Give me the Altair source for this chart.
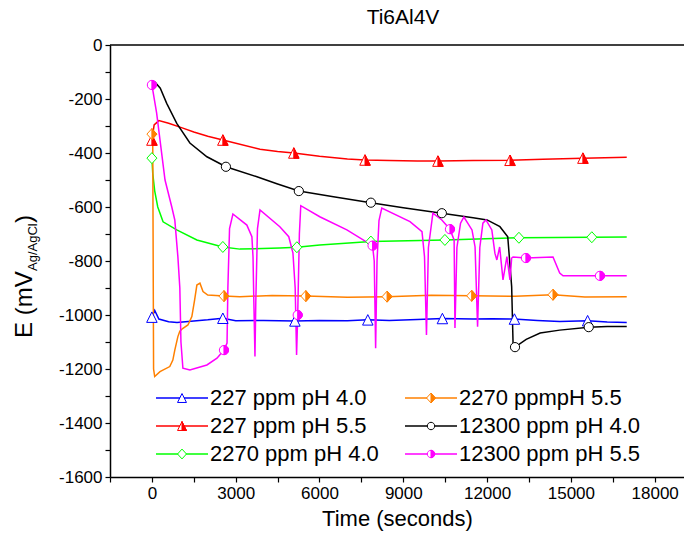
import altair as alt
import pandas as pd

TITLE = "Ti6Al4V"
X_TITLE = "Time (seconds)"
Y_TITLE_MAIN = "E (mV"
Y_TITLE_SUB = "Ag/AgCl"
Y_TITLE_END = ")"
FONT = "Liberation Sans"

names = ["227 ppm pH 4.0", "227 ppm pH 5.5", "2270 ppm pH 4.0",
         "2270 ppmpH 5.5", "12300 ppm pH 4.0", "12300 ppm pH 5.5"]
colors = ["#0000FF", "#FF0000", "#00FF00", "#FF8000", "#000000", "#FF00FF"]
shape_kind = ["tri", "tri", "dia", "dia", "circ", "circ"]
half_filled = [False, True, False, True, False, True]
legend_col = [0, 0, 0, 1, 1, 1]
legend_row = [0, 1, 2, 0, 1, 2]

x_ticks = list(range(-1500, 18001, 1500))
y_ticks = list(range(-1600, 1, 100))

# ---- series: 227 ppm pH 4.0 (blue)
t_blue = [0, 100, 250, 600, 900, 1500, 2000, 2540, 3000, 4000, 5120, 6000, 7000,
          7730, 8500, 9500, 10420, 11500, 12200, 12960, 13800, 14600, 15600, 16300, 17000]
e_blue = [-1008, -983, -1015, -1025, -1028, -1022, -1018, -1012, -1021, -1020, -1022, -1020, -1021,
          -1018, -1020, -1017, -1013, -1015, -1014, -1015, -1020, -1024, -1021, -1026, -1028]
mt_blue = [0, 2540, 5120, 7730, 10400, 12980, 15600]
me_blue = [-1008, -1012, -1022, -1018, -1013, -1015, -1021]

# ---- 227 ppm pH 5.5 (red)
t_red = [0, 80, 250, 600, 1110, 1500, 2000, 2540, 3870, 4500, 5080, 6000, 7000,
         7630, 8500, 9500, 10240, 11500, 12820, 14000, 15430, 17000]
e_red = [-352, -296, -280, -290, -308, -322, -338, -352, -386, -394, -400, -412, -422,
         -426, -428, -430, -430, -428, -427, -423, -419, -416]
mt_red = [0, 2540, 5080, 7630, 10240, 12820, 15430]
me_red = [-352, -352, -400, -426, -430, -427, -419]

# ---- 2270 ppm pH 4.0 (green)
t_green = [0, 30, 100, 210, 400, 890, 1610, 2540, 3150, 4580, 5190, 6010, 7840,
           10490, 13140, 15750, 17000]
e_green = [-419, -475, -540, -600, -655, -685, -722, -748, -756, -752, -749, -741, -728,
           -722, -714, -712, -711]
mt_green = [0, 2540, 5190, 7840, 10490, 13140, 15750]
me_green = [-419, -748, -749, -728, -722, -714, -712]

# ---- 2270 ppmpH 5.5 (orange)
t_orange = [0, 30, 60, 100, 290, 640, 750, 820, 930, 1000, 1100, 1290, 1430, 1530,
            1610, 1720, 1830, 2000, 2580, 3150, 4300, 5510, 7000, 8420, 10000, 11450,
            13000, 14360, 15500, 17000]
e_orange = [-330, -360, -1200, -1228, -1210, -1191, -1167, -1130, -1080, -1060, -1050,
            -1037, -1006, -944, -889, -882, -913, -926, -930, -932, -928, -930, -934,
            -932, -927, -929, -931, -925, -933, -932]
mt_orange = [0, 2580, 5510, 8420, 11450, 14360]
me_orange = [-330, -930, -930, -932, -929, -925]

# ---- 12300 ppm pH 4.0 (black)
t_black = [100, 300, 530, 890, 1360, 1970, 2650, 3760, 4500, 5260, 6500, 7840, 9000,
           10380, 11500, 12000, 12460, 12740, 12880, 12930, 13000, 13400, 13900, 14600,
           15640, 16300, 17000]
e_black = [-136, -160, -216, -290, -363, -414, -451, -488, -515, -541, -562, -584, -603,
           -623, -640, -648, -673, -710, -895, -1104, -1119, -1090, -1067, -1056,
           -1045, -1043, -1043]
mt_black = [2650, 5260, 7840, 10380, 13000, 15640]
me_black = [-451, -541, -584, -623, -1119, -1045]

# ---- 12300 ppm pH 5.5 (magenta)
t_mag = [0, 170, 470, 710, 820, 930, 1000, 1040, 1110, 1360, 1970, 2330, 2580, 2690,
         2720, 2780, 2900, 3400, 3580, 3620, 3650, 3690, 3720, 3780, 3870, 4580, 4900,
         5050, 5130, 5180, 5220, 5280, 5330, 6010, 6980, 7900, 7960, 8010, 8060, 8130,
         8230, 9240, 9670, 9760, 9830, 9900, 10060, 10380, 10670, 10820, 10850, 10920,
         11050, 11170, 11460, 11570, 11660, 11740, 11850, 11960, 12170, 12280, 12350,
         12450, 12570, 12710, 12820, 12880, 12930, 13390, 14360, 14600, 14720, 16040, 17000]
e_mag = [-148, -252, -500, -599, -648, -784, -900, -1100, -1197, -1204, -1185, -1160,
         -1130, -1104, -900, -680, -626, -667, -710, -784, -950, -1154, -950, -680, -611,
         -673, -710, -771, -900, -1148, -1000, -700, -595, -636, -685, -743, -800, -1123,
         -800, -650, -604, -654, -691, -784, -1074, -750, -623, -648, -682, -722, -1048,
         -750, -660, -637, -685, -748, -1043, -750, -660, -648, -685, -771, -796, -748,
         -870, -784, -870, -789, -785, -789, -785, -845, -855, -855, -855]
mt_mag = [0, 2580, 5220, 7900, 10670, 13390, 16040]
me_mag = [-148, -1130, -1000, -743, -682, -789, -855]

series_t = [t_blue, t_red, t_green, t_orange, t_black, t_mag]
series_e = [e_blue, e_red, e_green, e_orange, e_black, e_mag]
marker_t = [mt_blue, mt_red, mt_green, mt_orange, mt_black, mt_mag]
marker_e = [me_blue, me_red, me_green, me_orange, me_black, me_mag]

PATHS = {
    "tri": ("M0,-1L1,1L-1,1Z", "M0,-1L1,1L0,1Z"),
    "dia": ("M0,-1.1L1,0L0,1.1L-1,0Z", "M0,-1.1L1,0L0,1.1Z"),
    "circ": ("M0,-1A1,1,0,1,1,0,1A1,1,0,1,1,0,-1Z", "M0,-1A1,1,0,0,1,0,1Z"),
}
SIZES = {"tri": 110, "dia": 100, "circ": 85}
LSIZES = {"tri": 80, "dia": 80, "circ": 55}

W, H = 574, 432

x_axis = alt.Axis(values=x_ticks, labelExpr="datum.value % 3000 === 0 ? '' + datum.value : ''",
                  grid=False, tickSize=5, tickWidth=1.2, tickColor="black", domainColor="black",
                  domainWidth=1.5, labelFont=FONT, labelFontSize=17, labelColor="black",
                  labelPadding=3, labelOverlap=False, labelFlush=False,
                  title=X_TITLE, titleFont=FONT, titleFontSize=22, titleFontWeight="normal",
                  titleColor="black", titlePadding=7)
y_axis = alt.Axis(values=y_ticks, labelExpr="datum.value % 200 === 0 ? '' + datum.value : ''",
                  grid=False, tickSize=5, tickWidth=1.2, tickColor="black", domainColor="black",
                  domainWidth=1.5, labelFont=FONT, labelFontSize=17, labelColor="black",
                  labelPadding=3, labelOverlap=False, labelFlush=False, title="")

xs = alt.Scale(domain=[-1500, 19050], nice=False, zero=False)
ys = alt.Scale(domain=[-1600, 0], nice=False, zero=False)
X = alt.X("t:Q", scale=xs, axis=x_axis)
Y = alt.Y("e:Q", scale=ys, axis=y_axis)

main_layers = []
for i in range(6):
    df = pd.DataFrame({"t": series_t[i], "e": series_e[i]})
    main_layers.append(alt.Chart(df).mark_line(color=colors[i], strokeWidth=1.5).encode(x=X, y=Y))
for i in range(6):
    mdf = pd.DataFrame({"t": marker_t[i], "e": marker_e[i]})
    full, right = PATHS[shape_kind[i]]
    s = SIZES[shape_kind[i]]
    main_layers.append(alt.Chart(mdf).mark_point(shape=full, size=s, filled=True, fill="white",
                                                 stroke=colors[i], strokeWidth=1, opacity=1)
                       .encode(x=X, y=Y))
    if half_filled[i]:
        main_layers.append(alt.Chart(mdf).mark_point(shape=right, size=s, filled=True,
                                                     fill=colors[i], stroke=colors[i],
                                                     strokeWidth=1, opacity=1)
                           .encode(x=X, y=Y))
main = alt.layer(*main_layers)

# ---- legend (own scales)
leg_df = pd.DataFrame({"name": names, "col": legend_col, "row": legend_row, "color": colors})
LX = alt.X("col:Q", scale=alt.Scale(domain=[0, 1], range=[46, 295]), axis=None)
LY = alt.Y("row:Q", scale=alt.Scale(domain=[0, 2], range=[353, 409]), axis=None)
leg_layers = [
    alt.Chart(leg_df).mark_rule(strokeWidth=1.5, x2Offset=52).encode(
        x=LX, x2="col:Q", y=LY, color=alt.Color("color:N", scale=None)),
]
for i in range(6):
    sub = leg_df.iloc[[i]]
    full, right = PATHS[shape_kind[i]]
    s = LSIZES[shape_kind[i]]
    leg_layers.append(alt.Chart(sub).mark_point(shape=full, size=s, filled=True, fill="white",
                                                stroke=colors[i], strokeWidth=1, opacity=1,
                                                xOffset=26).encode(x=LX, y=LY))
    if half_filled[i]:
        leg_layers.append(alt.Chart(sub).mark_point(shape=right, size=s, filled=True,
                                                    fill=colors[i], stroke=colors[i],
                                                    strokeWidth=1, opacity=1, xOffset=26)
                          .encode(x=LX, y=LY))
leg_layers.append(alt.Chart(leg_df).mark_text(align="left", baseline="middle", dx=54,
                                              font=FONT, fontSize=22, color="black")
                  .encode(x=LX, y=LY, text="name:N"))
legend = alt.layer(*leg_layers)

# ---- annotations
one = pd.DataFrame({"k": [0]})
top_line = alt.Chart(one).mark_rule(color="black", strokeWidth=1.5).encode(
    x=alt.value(0), x2=alt.value(W), y=alt.value(0))
title = alt.Chart(one).mark_text(text=TITLE, font=FONT, fontSize=21, align="center",
                                 baseline="middle", color="black").encode(
    x=alt.value(293), y=alt.value(-27))
yt1 = alt.Chart(one).mark_text(text=Y_TITLE_MAIN, font=FONT, fontSize=24, angle=270,
                               align="left", baseline="alphabetic", color="black").encode(
    x=alt.value(-78), y=alt.value(293))
yt2 = alt.Chart(one).mark_text(text=Y_TITLE_SUB, font=FONT, fontSize=13, angle=270,
                               align="left", baseline="alphabetic", color="black").encode(
    x=alt.value(-73), y=alt.value(226))
yt3 = alt.Chart(one).mark_text(text=Y_TITLE_END, font=FONT, fontSize=24, angle=270,
                               align="left", baseline="alphabetic", color="black").encode(
    x=alt.value(-78), y=alt.value(178))
notes = alt.layer(top_line, title, yt1, yt2, yt3)

chart = alt.layer(main, legend, notes).resolve_scale(x="independent", y="independent").properties(
    width=W, height=H,
    autosize=alt.AutoSizeParams(type="none"),
    padding={"left": 110, "top": 45, "right": 0, "bottom": 64},
).configure_view(stroke="transparent")

chart.save("out.html", embed_options={"renderer": "svg", "actions": False})
